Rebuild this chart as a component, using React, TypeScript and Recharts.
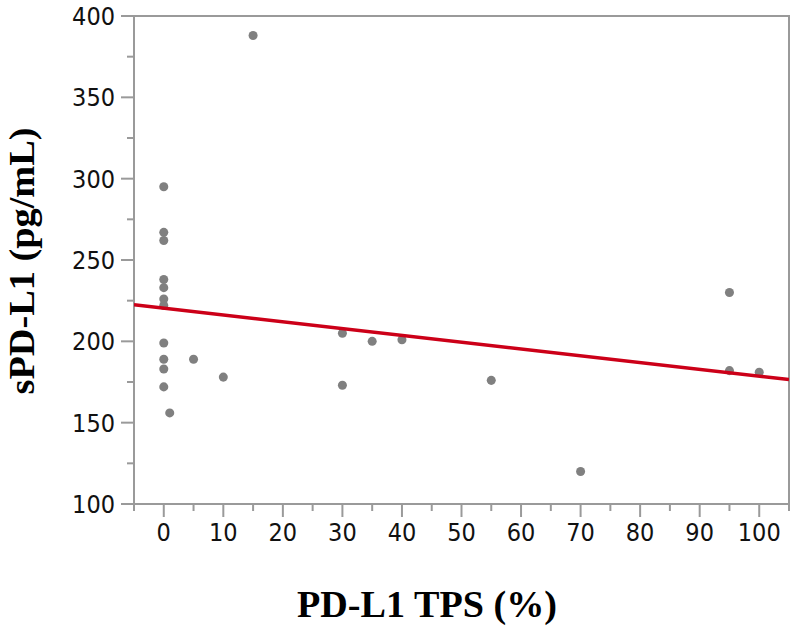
import {
  ReferenceArea,
  Scatter,
  ScatterChart,
  XAxis,
  YAxis,
  ZAxis,
} from "recharts";

// PD-L1 tumour proportion score (%) for each patient
const tpsValues = [
  0, 0, 0, 0, 0, 0, 0, 0, 0, 0, 0, 1, 5, 10, 15, 30, 30, 35, 40, 55, 70, 95, 95, 100,
];
// matching soluble PD-L1 (pg/mL)
const spdl1Values = [
  295, 267, 262, 238, 233, 226, 222, 199, 189, 183, 172, 156, 189, 178, 388, 205, 173,
  200, 201, 176, 120, 230, 182, 181,
];

// fitted line, read at both edges of the plot
const fitX = [-5, 105];
const fitY = [222.5, 176.5];

const xTicks = [-5, 0, 5, 10, 15, 20, 25, 30, 35, 40, 45, 50, 55, 60, 65, 70, 75, 80, 85, 90, 95, 100, 105];
const yTicks = [100, 125, 150, 175, 200, 225, 250, 275, 300, 325, 350, 375, 400];

const points = tpsValues.map((x, i) => ({ x, y: spdl1Values[i] }));
const fitLine = fitX.map((x, i) => ({ x, y: fitY[i] }));

const AXIS_GREY = "#9a9a9a";
const TICK_LEN = 13;
const MINOR_LEN = 7;
const TICK_GAP = 6;
const tickFont = '"DejaVu Sans Condensed", "Liberation Sans", sans-serif';
const titleFont = '"Liberation Serif", "Times New Roman", serif';

function YTick({ x, y, payload }: { x: number; y: number; payload: { value: number } }) {
  const axisX = x + TICK_LEN + TICK_GAP;
  const major = payload.value % 50 === 0;
  return (
    <g>
      <line x1={axisX - (major ? TICK_LEN : MINOR_LEN)} x2={axisX} y1={y} y2={y} stroke={AXIS_GREY} strokeWidth={2} />
      {major && (
        <text x={x} y={y} dy="0.36em" textAnchor="end" fontFamily={tickFont} fontSize={25} fill="#111">
          {payload.value}
        </text>
      )}
    </g>
  );
}

function XTick({ x, y, payload }: { x: number; y: number; payload: { value: number } }) {
  const axisY = y - TICK_LEN - TICK_GAP;
  const major = payload.value % 10 === 0;
  const labelled = major && payload.value >= 0 && payload.value <= 100;
  return (
    <g>
      <line x1={x} x2={x} y1={axisY} y2={axisY + (major ? TICK_LEN : MINOR_LEN)} stroke={AXIS_GREY} strokeWidth={2} />
      {labelled && (
        <text x={x} y={y} dy="0.72em" textAnchor="middle" fontFamily={tickFont} fontSize={25} fill="#111">
          {payload.value}
        </text>
      )}
    </g>
  );
}

export default function App() {
  return (
    <div style={{ position: "absolute", left: 0, top: 0, width: 792, height: 628, background: "#fff" }}>
      <ScatterChart width={792} height={628} margin={{ top: 16, right: 3, bottom: 0, left: 0 }}>
        <XAxis
          type="number"
          dataKey="x"
          domain={[-5, 105]}
          ticks={xTicks}
          interval={0}
          height={124}
          tickLine={false}
          tickSize={TICK_LEN}
          tickMargin={TICK_GAP}
          tick={XTick}
          axisLine={{ stroke: AXIS_GREY, strokeWidth: 2 }}
          allowDataOverflow
        />
        <YAxis
          type="number"
          dataKey="y"
          domain={[100, 400]}
          ticks={yTicks}
          interval={0}
          width={134}
          tickLine={false}
          tickSize={TICK_LEN}
          tickMargin={TICK_GAP}
          tick={YTick}
          axisLine={{ stroke: AXIS_GREY, strokeWidth: 2 }}
          allowDataOverflow
        />
        <ZAxis range={[95, 95]} />
        <ReferenceArea x1={-5} x2={105} y1={100} y2={400} fill="none" stroke={AXIS_GREY} strokeWidth={2} />
        <Scatter data={points} fill="#808080" isAnimationActive={false} />
        <Scatter
          data={fitLine}
          line={{ stroke: "#cc0018", strokeWidth: 3.5 }}
          shape={() => <g />}
          isAnimationActive={false}
        />
      </ScatterChart>
      <svg width={792} height={628} style={{ position: "absolute", left: 0, top: 0, pointerEvents: "none" }}>
        <text
          x={427}
          y={617}
          textAnchor="middle"
          fontFamily={titleFont}
          fontWeight="bold"
          fontSize={37}
          textLength={260}
          lengthAdjust="spacingAndGlyphs"
          fill="#000"
        >
          PD-L1 TPS (%)
        </text>
        <text
          x={34}
          y={261}
          transform="rotate(-90, 34, 261)"
          textAnchor="middle"
          fontFamily={titleFont}
          fontWeight="bold"
          fontSize={35}
          textLength={267}
          lengthAdjust="spacingAndGlyphs"
          fill="#000"
        >
          sPD-L1 (pg/mL)
        </text>
      </svg>
    </div>
  );
}
